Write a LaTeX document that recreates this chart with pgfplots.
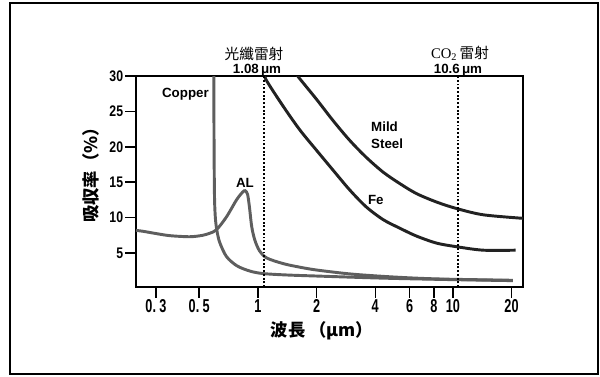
\documentclass[border=0pt]{standalone}
\usepackage{pgfplots}
\pgfplotsset{compat=1.18}
\usepackage{fontspec}
\setmainfont{Liberation Sans}
\newfontfamily\jpfont{Noto Sans CJK JP}
\newfontfamily\tcfont{Noto Sans CJK TC}
\newfontfamily\xtickfont{Liberation Sans}[FakeStretch=0.68]
\newfontfamily\ytickfont{Liberation Sans}[FakeStretch=0.8]
\newfontfamily\serifCO{Liberation Serif}
\definecolor{grayc}{HTML}{5E5E5E}
\definecolor{darkc}{HTML}{222222}
\begin{document}
\begin{tikzpicture}
\useasboundingbox (-102pt,-66.75pt) rectangle (348pt,215.25pt);
\begin{axis}[
  scale only axis, width=290.25pt, height=158.25pt,
  xmode=log, xmin=0.237, xmax=22.9, ymin=0.2, ymax=30,
  axis line style={line width=1.1pt},
  tick pos=left, tick align=outside, major tick length=8pt,
  every tick/.style={line width=1.1pt, black},
  xminorticks=false,
  xtick={0.3,0.5,1,2,4,6,8,10,20},
  xticklabels={\mbox{0.\hspace{2.5pt}3},\mbox{0.\hspace{2.5pt}5},\mbox{1},\mbox{2},\mbox{4},\mbox{6},\mbox{8},\mbox{10},\mbox{20}},
  ytick={5,10,15,20,25,30},
  yticklabels={\mbox{5},\mbox{10},\mbox{15},\mbox{20},\mbox{25},\mbox{30}},
  xticklabel style={font=\xtickfont\bfseries\fontsize{14pt}{14pt}\selectfont, inner sep=1pt},
  yticklabel style={font=\ytickfont\bfseries\fontsize{11.5pt}{11.5pt}\selectfont, inner sep=1.5pt},
]
\addplot[grayc, line width=2.2pt, smooth, tension=0.5] coordinates {
 (0.237,8.2) (0.26,8.05) (0.3,7.75) (0.354,7.45) (0.448,7.3) (0.52,7.5) (0.567,7.8) (0.614,8.3) (0.69,10.1) (0.777,12.5) (0.835,13.6) (0.86,13.8) (0.885,13.3) (0.905,11.5) (0.93,8.7) (0.965,6.8) (1.02,5.3) (1.11,4.3) (1.35,3.5) (1.64,3.0) (2.0,2.6) (2.96,2.05) (4.4,1.7) (6.5,1.45) (9.6,1.3) (20.3,1.15)
};
\addplot[grayc, line width=2.2pt, smooth, tension=0.5] coordinates {
 (0.594,30.5) (0.596,20) (0.599,13) (0.605,10) (0.616,8.2) (0.637,6.5) (0.69,4.5) (0.78,3.2) (0.91,2.45) (1.06,2.1) (1.4,1.9) (2.0,1.75) (4.4,1.45) (9.6,1.25) (20.3,1.1)
};
\addplot[darkc, line width=2.2pt, smooth, tension=0.5] coordinates {
 (1.06,31) (1.1,29.5) (1.35,25.7) (1.64,22.4) (2.0,19.5) (2.43,16.7) (2.96,13.9) (3.6,11.5) (4.4,9.7) (5.35,8.5) (6.5,7.4) (8.25,6.4) (10.4,5.9) (14.3,5.4) (21,5.4)
};
\addplot[darkc, line width=2.2pt, smooth, tension=0.5] coordinates {
 (1.57,30.5) (1.61,29.9) (2.0,26.7) (2.43,23.7) (2.96,20.9) (3.6,18.5) (4.4,16.4) (5.35,14.8) (6.5,13.4) (8.25,12.2) (10.4,11.3) (14.3,10.4) (22.9,9.9)
};
\addplot[black, line width=1.4pt, dash pattern=on 1.4pt off 1.4pt] coordinates {(1.08,0.2) (1.08,30)};
\addplot[black, line width=1.4pt, dash pattern=on 1.4pt off 1.4pt] coordinates {(10.6,0.2) (10.6,30)};
\node[font=\bfseries\fontsize{10pt}{12pt}\selectfont, anchor=base] at (axis cs:0.425,27.0) {Copper};
\node[font=\bfseries\fontsize{10pt}{12pt}\selectfont, anchor=base] at (axis cs:0.858,14.2) {AL};
\node[font=\bfseries\fontsize{10pt}{12pt}\selectfont, anchor=base west, inner sep=0pt] at (axis cs:3.8,22.1) {Mild};
\node[font=\bfseries\fontsize{10pt}{12pt}\selectfont, anchor=base west, inner sep=0pt] at (axis cs:3.8,19.7) {Steel};
\node[font=\bfseries\fontsize{10pt}{12pt}\selectfont, anchor=base west, inner sep=0pt] at (axis cs:3.66,11.9) {Fe};
\end{axis}
\node[rotate=90, font=\jpfont\bfseries\fontsize{13pt}{13pt}\selectfont] at (-33.75pt,87pt) {吸収率（\%）};
\node[font=\jpfont\bfseries\fontsize{13pt}{13pt}\selectfont] at (139.5pt,-33pt) {波長\hspace{3pt}（μm）};
\node[font=\tcfont\fontsize{11pt}{11pt}\selectfont] at (88.5pt,175.1pt) {光纖雷射};
\node[font=\bfseries\fontsize{10pt}{10pt}\selectfont, anchor=base] at (90.75pt,160.5pt) {1.08\,μm};
\node[font=\fontsize{11pt}{11pt}\selectfont] at (243pt,175.1pt) {{\serifCO CO\textsubscript{2}}\,{\tcfont 雷射}};
\node[font=\bfseries\fontsize{10pt}{10pt}\selectfont, anchor=base] at (241.5pt,160.5pt) {10.6\,μm};
\draw[line width=1.5pt] (-94.125pt,-64.875pt) rectangle (346.5pt,213.375pt);
\end{tikzpicture}
\end{document}
